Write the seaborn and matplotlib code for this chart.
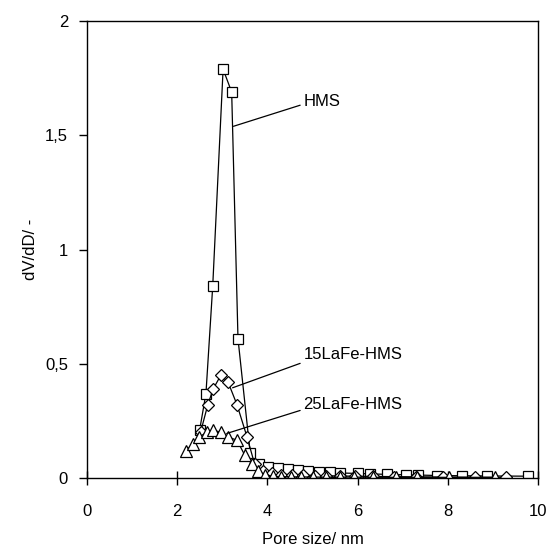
import matplotlib
matplotlib.use("Agg")
import matplotlib.pyplot as plt
import seaborn as sns
import pandas as pd

sns.set_theme(style="white")
plt.rcParams['font.family'] = ['Liberation Sans', 'DejaVu Sans']
plt.rcParams['text.color'] = 'black'

# HMS (squares)
hms_x = [2.50, 2.64, 2.79, 3.02, 3.21, 3.35, 3.62, 3.82, 4.02, 4.23, 4.45, 4.67, 4.90,
         5.15, 5.40, 5.62, 6.01, 6.27, 6.65, 7.07, 7.34, 7.76, 8.31, 8.87, 9.78]
hms_y = [0.21, 0.37, 0.84, 1.79, 1.69, 0.61, 0.11, 0.06, 0.05, 0.045, 0.04, 0.036, 0.032,
         0.028, 0.025, 0.022, 0.020, 0.018, 0.016, 0.014, 0.013, 0.011, 0.010, 0.009, 0.008]

# 15LaFe-HMS (diamonds)
la15_x = [2.52, 2.68, 2.80, 2.97, 3.13, 3.33, 3.55, 3.72, 3.90, 4.10, 4.30, 4.55, 4.80,
          5.05, 5.30, 5.60, 5.95, 6.35, 6.80, 7.30, 7.90, 8.60, 9.30]
la15_y = [0.20, 0.32, 0.39, 0.45, 0.42, 0.32, 0.18, 0.06, 0.03, 0.02, 0.015, 0.013, 0.012,
          0.011, 0.010, 0.009, 0.008, 0.007, 0.006, 0.005, 0.004, 0.003, 0.003]

# 25LaFe-HMS (triangles)
la25_x = [2.20, 2.35, 2.49, 2.66, 2.80, 2.97, 3.13, 3.33, 3.50, 3.66, 3.80, 3.95, 4.12,
          4.30, 4.52, 4.75, 5.02, 5.30, 5.60, 5.92, 6.34, 6.85, 7.32, 8.03, 9.05]
la25_y = [0.12, 0.15, 0.18, 0.20, 0.21, 0.20, 0.18, 0.165, 0.10, 0.06, 0.03, 0.015, 0.008,
          0.006, 0.005, 0.005, 0.004, 0.004, 0.004, 0.004, 0.003, 0.003, 0.003, 0.003, 0.003]

x_ticks = [0, 2, 4, 6, 8, 10]
y_ticks = [0, 0.5, 1, 1.5, 2]
y_labels = ["0", "0,5", "1", "1,5", "2"]

fig = plt.figure(figsize=(5.53, 5.53), dpi=100)
ax = fig.add_axes([0.157, 0.1356, 0.816, 0.826])

series = [
    (hms_x, hms_y, 's', 7.5),
    (la15_x, la15_y, 'D', 6.0),
    (la25_x, la25_y, '^', 8.5),
]
for xs, ys, mk, ms in series:
    df = pd.DataFrame({"x": xs, "y": ys})
    sns.lineplot(data=df, x="x", y="y", ax=ax, sort=False, estimator=None,
                 color="black", linewidth=0.9, marker=mk, markersize=ms,
                 markerfacecolor="white", markeredgecolor="black",
                 markeredgewidth=0.9)

ax.set_xlim(0, 10)
ax.set_ylim(0, 2)
ax.set_xticks(x_ticks)
ax.set_xticklabels([str(t) for t in x_ticks])
ax.set_yticks(y_ticks)
ax.set_yticklabels(y_labels)

for sp in ax.spines.values():
    sp.set_color("black")
    sp.set_linewidth(1.0)

ax.tick_params(axis='x', direction='inout', length=9.5, width=1.0, pad=14,
               labelsize=12, colors='black', bottom=True)
ax.tick_params(axis='y', direction='out', length=5.5, width=1.0, pad=8,
               labelsize=12, colors='black', left=True)

ax.set_xlabel("Pore size/ nm", fontsize=12, color='black', labelpad=9)
ax.set_ylabel("dV/dD/ -", fontsize=12, color='black', labelpad=5)

# Callouts
ax.annotate("HMS", xy=(3.25, 1.54), xytext=(4.8, 1.65), fontsize=12,
            va='center', ha='left', color='black',
            arrowprops=dict(arrowstyle='-', color='black', lw=0.9,
                            shrinkA=0, shrinkB=0, relpos=(0, 0.3)))
ax.annotate("15LaFe-HMS", xy=(3.23, 0.395), xytext=(4.8, 0.54), fontsize=12,
            va='center', ha='left', color='black',
            arrowprops=dict(arrowstyle='-', color='black', lw=0.9,
                            shrinkA=0, shrinkB=0, relpos=(0, 0.0)))
ax.annotate("25LaFe-HMS", xy=(3.1, 0.195), xytext=(4.8, 0.32), fontsize=12,
            va='center', ha='left', color='black',
            arrowprops=dict(arrowstyle='-', color='black', lw=0.9,
                            shrinkA=0, shrinkB=0, relpos=(0, 0.2)))

fig.savefig("out.png", dpi=100)
